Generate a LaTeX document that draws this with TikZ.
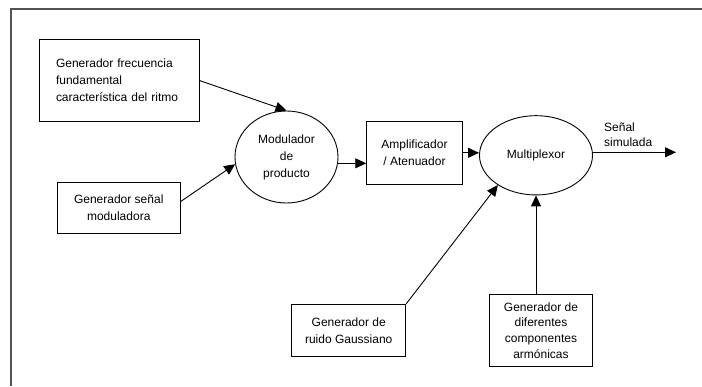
\documentclass[tikz,border=0pt]{standalone}
\usepackage{fontspec}
\setmainfont{Liberation Sans}
\usetikzlibrary{shapes.geometric,arrows.meta}
\begin{document}
\begin{tikzpicture}[x=1pt,y=-1pt,
  box/.style={draw,rectangle,line width=0.9pt,inner sep=0pt,align=center,font=\fontsize{12}{17}\selectfont},
  ell/.style={draw,ellipse,line width=0.9pt,inner sep=0pt,align=center,font=\fontsize{12}{17}\selectfont},
  arr/.style={line width=0.9pt,-{Triangle[length=11pt,width=10pt]}},
  frameline/.style={draw=black!68,line width=2pt}]
\useasboundingbox (0,0) rectangle (702,386);
\draw[frameline] (702,9) -- (11,9) -- (11,386);
\node[box,minimum width=160pt,minimum height=82pt,text width=126pt,inner xsep=17pt,align=left] (f1) at (119,80.5) {Generador frecuencia\\fundamental\\característica del ritmo};
\node[box,minimum width=122.5pt,minimum height=51pt] (f2) at (118.75,208) {Generador señal\\moduladora};
\node[ell,minimum width=103pt,minimum height=92pt] (mod) at (286.5,157) {Modulador\\de\\producto};
\node[box,minimum width=95.6pt,minimum height=62.3pt] (amp) at (414.5,152.8) {Amplificador\\/ Atenuador};
\node[ell,minimum width=113pt,minimum height=79.3pt] (mux) at (536,155.3) {Multiplexor};
\node[box,minimum width=114pt,minimum height=52.4pt] (gau) at (348.7,330.5) {Generador de\\ruido Gaussiano};
\node[box,minimum width=103.4pt,minimum height=72.4pt,font=\fontsize{12}{15.7}\selectfont] (arm) at (541,330.5) {Generador de\\diferentes\\componentes\\armónicas};
\coordinate (out) at (676,152.3);
\node[anchor=west,inner sep=0pt,align=left,font=\fontsize{12}{15}\selectfont] (lbl) at (604,134.7) {Señal\\simulada};
\draw[arr] (f1.east) -- (mod.north);
\draw[arr] ([yshift=6.3pt]f2.east) -- (mod.188);
\draw[arr] (mod.-7) -- (mod.-7 -| amp.west);
\draw[arr] (amp.east) -- (amp.east -| mux.west);
\draw[arr] (mux.east |- out) -- (out);
\draw[arr] (gau.north east) -- (mux.218);
\draw[arr] (arm.north -| mux.south) -- (mux.south);
\end{tikzpicture}
\end{document}
